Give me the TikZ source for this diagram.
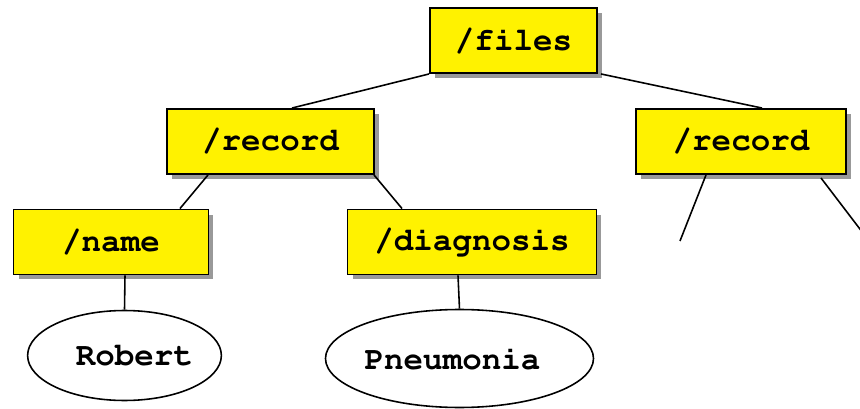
\documentclass[tikz,border=0pt]{standalone}
\usepackage[T1]{fontenc}
\usetikzlibrary{shapes.geometric,shadows}

\newcommand{\courbf}{\fontencoding{T1}\fontfamily{pcr}\fontseries{b}\fontshape{n}\fontsize{18.5}{20}\selectfont}

\tikzset{
	tag/.style={draw, line width=1.1pt, fill=yellow, minimum height=1.3cm, font=\courbf,
		drop shadow={shadow xshift=0.1cm, shadow yshift=-0.1cm, fill=gray!80, opacity=1}},
	val/.style={draw, ellipse, line width=0.9pt, fill=white, inner sep=0pt, font=\courbf},
	edge/.style={line width=0.9pt}
}

\begin{document}
\begin{tikzpicture}[x=0.02cm,y=-0.02cm]
	\useasboundingbox (0,0) rectangle (860,409);
	% element nodes
	\node[tag, minimum width=3.34cm] (files) at (513.5,40.5) {/files};
	\node[tag, minimum width=4.14cm] (rec1) at (270.5,141.5) {/record};
	\node[tag, minimum width=4.2cm] (rec2) at (741,141.5) {/record};
	\node[tag, minimum width=3.9cm] (name) at (111,242) {/name};
	\node[tag, minimum width=4.98cm] (diag) at (472,242) {/diagnosis};
	% text values
	\node[val, minimum width=3.86cm, minimum height=1.8cm] (robert) at (124.5,355.5) {\hspace*{0.4cm}Robert};
	\node[val, minimum width=5.24cm, minimum height=1.96cm] (pneu) at (459.5,358.5) {Pneumonia\hspace*{0.28cm}};
	% loose ends under the second record
	\coordinate (end1) at (680,241);
	\coordinate (end2) at (866,237);
	% tree edges
	\draw[edge] (files.south west) -- ([xshift=0.43cm]rec1.north);
	\draw[edge] ([xshift=0.06cm]files.south east) -- ([xshift=0.42cm]rec2.north);
	\draw[edge] ([xshift=-1.25cm]rec1.south) -- ([xshift=1.38cm]name.north);
	\draw[edge] ([xshift=2.07cm]rec1.south) -- ([xshift=-1.4cm]diag.north);
	\draw[edge] ([xshift=0.28cm]name.south) -- (robert.north);
	\draw[edge] ([xshift=-0.28cm]diag.south) -- (pneu.north);
	\draw[edge] ([xshift=-0.7cm]rec2.south) -- (end1);
	\draw[edge] ([xshift=1.6cm,yshift=-0.06cm]rec2.south) -- (end2);
\end{tikzpicture}
\end{document}
